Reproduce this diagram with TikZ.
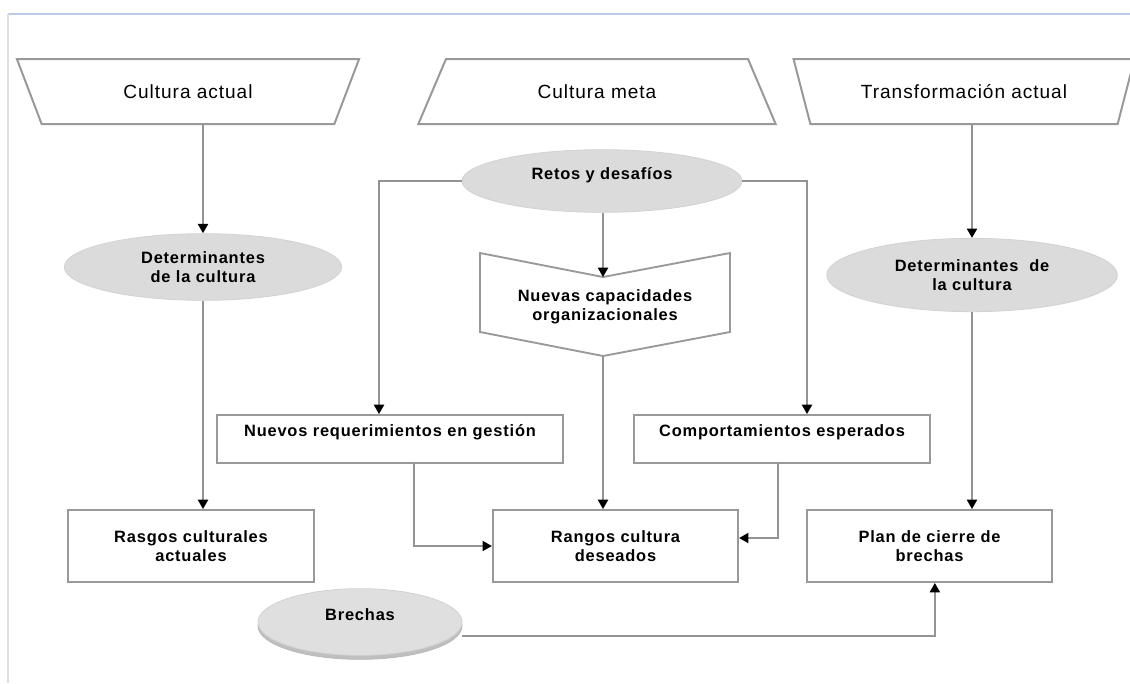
\documentclass[tikz,border=0pt]{standalone}
\usepackage{fontspec}
\setmainfont{Liberation Sans}[LetterSpace=5]
\usetikzlibrary{shapes.geometric,arrows.meta,shadows}

\begin{document}
\begin{tikzpicture}[x=0.75pt,y=-0.75pt,
    ln/.style={draw=gray!85,line width=1.5pt},
    arr/.style={ln,-{Triangle[length=7pt,width=7.5pt,color=black]}},
    caja/.style={rectangle,draw=gray!80,line width=1.4pt,align=center,inner sep=0pt,
        font=\bfseries\fontsize{12.3}{14}\selectfont},
    elip/.style={ellipse,fill=gray!28,draw=gray!35,line width=0.6pt,align=center,inner sep=0pt,
        font=\bfseries\fontsize{12.3}{14}\selectfont},
    trap/.style={trapezium,trapezium stretches=true,draw=gray!80,line width=1.5pt,
        trapezium left angle=63,trapezium right angle=63,minimum height=48.75pt,
        font=\fontsize{14.3}{16}\selectfont}]
\useasboundingbox (0,0) rectangle (1130,683);
% marco
\draw[line width=1.1pt,color={rgb,255:red,185;green,203;blue,230}] (8,14) -- (1130,14);
\draw[line width=1pt,gray!25] (8,14) -- (8,683);

% encabezados
\node[trap,shape border rotate=180,minimum width=257pt] (cact) at (188,91.5) {Cultura actual};
\node[trap,minimum width=268pt] (cmeta) at (597,91.5) {Cultura meta};
\node[trap,shape border rotate=180,minimum width=256pt] (ctrans) at (964,91.5) {Transformación actual};

% elipses
\node[elip,minimum width=208pt,minimum height=50pt] (det1) at (203,267) {Determinantes\\de la cultura};
\node[elip,minimum width=210pt,minimum height=47pt] (retos) at (602,181) {Retos y desafíos\\[-2pt]};
\node[elip,minimum width=218pt,minimum height=55pt] (det2) at (972,275) {Determinantes\ \ de\\la cultura};
\node[elip,fill=gray!25,minimum width=153pt,minimum height=50pt,
    copy shadow={shadow xshift=0pt,shadow yshift=-3pt,fill=gray!50,draw=gray!55}] (brechas) at (360,622) {Brechas\\[-3pt]};

% capacidades
\draw[ln,draw=gray!80,line width=1.4pt] (480,253) -- (603,277) -- (730,253) -- (730,332) -- (603,356) -- (480,332) -- cycle;
\coordinate (capsin) at (603,277);
\coordinate (capsout) at (603,356);
\node[align=center,font=\bfseries\fontsize{12.3}{14}\selectfont] (caps) at (605,307) {Nuevas capacidades\\organizacionales};

% cajas
\node[caja,minimum width=259.5pt,minimum height=36pt,text depth=13pt] (nreq) at (390,439) {Nuevos requerimientos en gestión};
\node[caja,minimum width=222pt,minimum height=36pt,text depth=13pt] (comp) at (782,439) {Comportamientos esperados};
\node[caja,minimum width=184pt,minimum height=54pt] (rasgos) at (191,546) {Rasgos culturales\\actuales};
\node[caja,minimum width=184pt,minimum height=54pt] (rangos) at (615.5,546) {Rangos cultura\\deseados};
\node[caja,minimum width=184pt,minimum height=54pt] (plan) at (929.5,546) {Plan de cierre de\\brechas};

% flechas
\draw[arr] (cact.south -| det1.north) -- (det1.north);
\draw[arr] (det1.south) -- (det1.south |- rasgos.north);
\draw[arr] (retos.south -| capsin) -- (capsin);
\draw[arr] (capsout) -- (capsout |- rangos.north);
\draw[arr] (retos.west) -| ([xshift=-8.25pt]nreq.north);
\draw[arr] (retos.east) -| ([xshift=18.75pt]comp.north);
\draw[arr] ([xshift=18pt]nreq.south) |- (rangos.west);
\draw[arr] ([xshift=-3pt]comp.south) |- ([yshift=6pt]rangos.east);
\draw[arr] (ctrans.south -| det2.north) -- (det2.north);
\draw[arr] (det2.south) -- (det2.south |- plan.north);
\draw[arr] ([yshift=-10.5pt]brechas.east) -| ([xshift=4pt]plan.south);
\end{tikzpicture}
\end{document}
